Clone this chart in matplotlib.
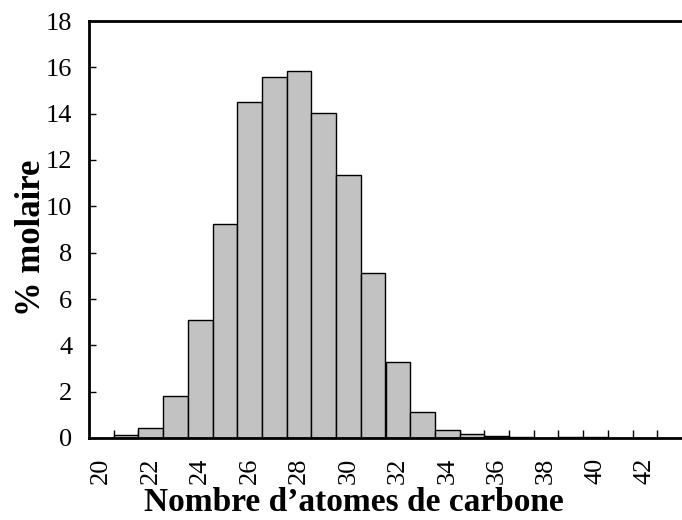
import matplotlib
matplotlib.use("Agg")
import matplotlib.pyplot as plt
import numpy as np

carbon = list(range(20, 44))
molar_pct = [0.02, 0.12, 0.42, 1.81, 5.1, 9.22, 14.49, 15.6, 15.83, 14.05,
             11.37, 7.14, 3.3, 1.11, 0.33, 0.17, 0.08, 0.03, 0.02, 0.05,
             0.03, 0.02, 0.02, 0.01]
xtick_labels = [str(v) for v in range(20, 44, 2)]
ytick_labels = [str(v) for v in range(0, 19, 2)]

plt.rcParams['font.family'] = ['Liberation Serif', 'DejaVu Serif']

fig = plt.figure(figsize=(6.82, 5.2), dpi=100)
ax = fig.add_axes([89/682, 1-438/520, 1-89/682, (438-21)/520])

ax.bar(carbon, molar_pct, width=1.0, color='#c2c2c2', edgecolor='black',
       linewidth=1.0, zorder=2)

ax.set_xlim(19.5, 43.5)
ax.set_ylim(0, 18)

ax.set_xticks(range(20, 44, 2))
ax.set_xticklabels(xtick_labels, rotation=90, fontsize=19)
ax.set_xticks(np.arange(20.5, 43.5, 1.0), minor=True)
ax.tick_params(axis='x', which='major', length=0, pad=14)
ax.tick_params(axis='x', which='minor', direction='in', length=6, width=1)

ax.set_yticks(range(0, 19, 2))
ax.set_yticklabels(ytick_labels, fontsize=19)
ax.tick_params(axis='y', direction='in', length=5, width=1, pad=12)

for s in ['left', 'bottom', 'top']:
    ax.spines[s].set_linewidth(2)
ax.spines['right'].set_visible(False)

fig.text(354/682, 1-511/520, "Nombre d\u2019atomes de carbone", fontsize=24,
         fontweight='bold', ha='center', va='baseline')
fig.text(31/682, 1-238/520, "% molaire", fontsize=25, fontweight='bold',
         rotation=90, ha='center', va='center')

fig.savefig("out.png", dpi=100)
